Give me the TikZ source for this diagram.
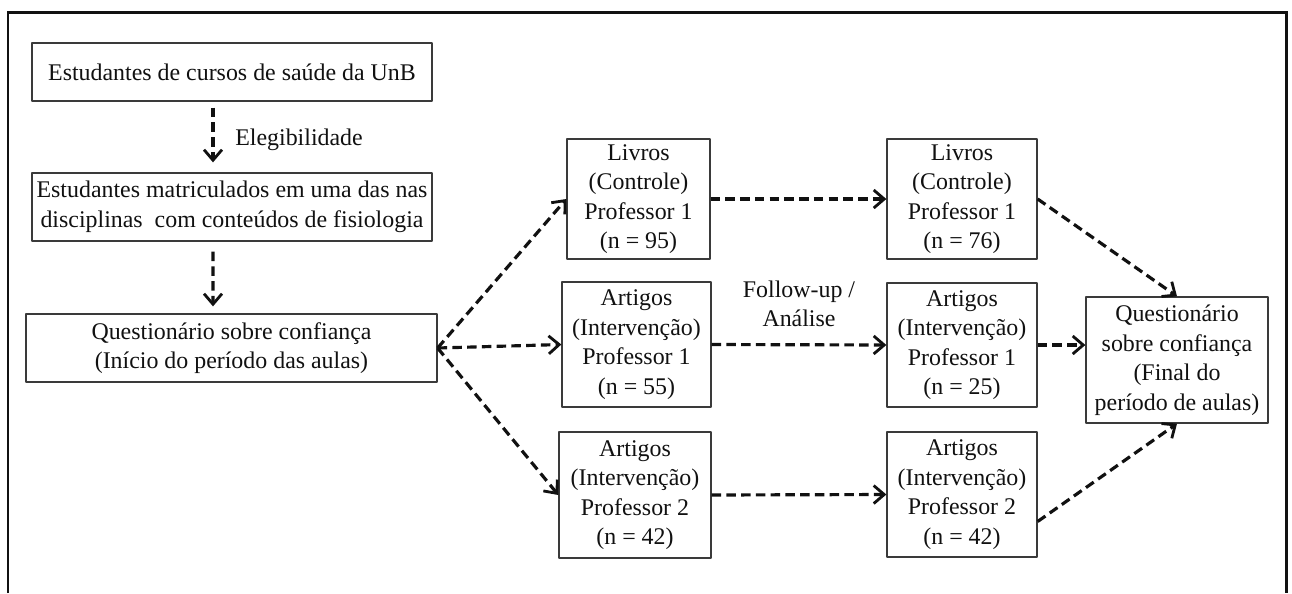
\documentclass[tikz,border=0pt]{standalone}
\usepackage{fontspec}
\setmainfont{Liberation Serif}
\usetikzlibrary{arrows.meta,positioning}
\definecolor{ink}{HTML}{111111}
\definecolor{edge}{HTML}{3A3A3A}
\tikzset{
  box/.style={draw=edge,line width=.75pt,align=center,inner sep=1pt,text=ink},
  flow/.style={-{Straight Barb[length=2.1mm,width=3.6mm,line width=1.6pt]},ink,line width=1.8pt,dash pattern=on 5.4pt off 3pt},
  note/.style={text=ink,align=center,inner sep=0pt},
}

\begin{document}
\begin{tikzpicture}[x=.02cm,y=-.02cm,line cap=butt,line join=round,font=\fontsize{13.6}{16.8}\selectfont]
  \path[use as bounding box] (0,0) rectangle (1292,593);
  \fill[white] (0,0) rectangle (1292,593);
  \draw[ink,line width=1.7pt,line join=miter] (8,593) -- (8,12) -- (1286,12) -- (1286,593);

  \node[box,minimum width=8cm,minimum height=1.16cm] (src) at (232,72) {Estudantes de cursos de saúde da UnB};
  \node[box,minimum width=8cm,minimum height=1.36cm] (elig) at (232,207) {Estudantes matriculados em uma das nas\\disciplinas\ \ com conteúdos de fisiologia};
  \node[box,minimum width=8.22cm,minimum height=1.36cm] (preq) at (231.5,348) {Questionário sobre confiança\\(Início do período das aulas)};

  \node[box,minimum width=2.86cm,minimum height=2.4cm] (liv1) at (638.5,199) {Livros\\(Controle)\\Professor 1\\(n = 95)};
  \node[box,minimum width=2.98cm,minimum height=2.5cm] (art1) at (636.5,344.5) {Artigos\\(Intervenção)\\Professor 1\\(n = 55)};
  \node[box,minimum width=3.04cm,minimum height=2.52cm] (art2) at (635,495) {Artigos\\(Intervenção)\\Professor 2\\(n = 42)};

  \node[box,minimum width=3cm,minimum height=2.4cm] (liv2) at (962,199) {Livros\\(Controle)\\Professor 1\\(n = 76)};
  \node[box,minimum width=3cm,minimum height=2.48cm] (art1b) at (962,345) {Artigos\\(Intervenção)\\Professor 1\\(n = 25)};
  \node[box,minimum width=3cm,minimum height=2.5cm] (art2b) at (962,494.5) {Artigos\\(Intervenção)\\Professor 2\\(n = 42)};

  \node[box,minimum width=3.64cm,minimum height=2.52cm] (final) at (1177,360) {Questionário\\sobre confiança\\(Final do\\período de aulas)};

  \node[note,anchor=west] (eligtxt) at (235,140) {Elegibilidade};
  \node[note] (follow) at (799,304) {Follow-up /\\Análise};

  \draw[flow,shorten <=.12cm,shorten >=.2cm] ([xshift=-.38cm]src.south) -- ([xshift=-.38cm]elig.north);
  \draw[flow,shorten <=.2cm,shorten >=.14cm] ([xshift=-.38cm]elig.south) -- ([xshift=-.37cm]preq.north);

  \draw[flow] (preq.east) -- (liv1.west);
  \draw[flow] (preq.east) -- (art1.west);
  \draw[flow] (preq.east) -- (art2.west);

  \draw[flow] (liv1.east) -- (liv2.west);
  \draw[flow] (art1.east) -- (art1b.west);
  \draw[flow] (art2.east) -- (art2b.west);

  \draw[flow] (liv2.east) -- (final.north);
  \draw[flow] (art1b.east) -- (art1b.east -| final.west);
  \draw[flow] ([yshift=-.54cm]art2b.east) -- (final.south);
\end{tikzpicture}
\end{document}
